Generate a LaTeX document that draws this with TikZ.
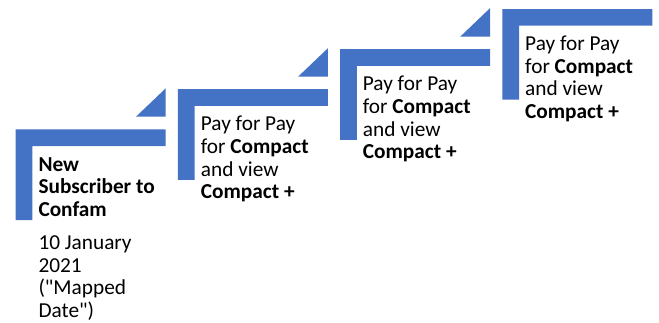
\documentclass[tikz,border=0pt]{standalone}
\usepackage{fontspec}
\setmainfont{Carlito}
\definecolor{stepblue}{HTML}{4472C4}
\tikzset{
  lshape/.style={fill=stepblue, draw=none},
  steptext/.style={anchor=base west, inner sep=0pt, align=left, font=\fontsize{21.3}{22.7}\selectfont, text=black}
}
\begin{document}
\begin{tikzpicture}[x=1pt,y=-1pt]
\useasboundingbox (0,0) rectangle (659,322);
\foreach \i in {0,1,2,3}{
  \pgfmathsetmacro{\xo}{15.7+162.2*\i}
  \pgfmathsetmacro{\yo}{129.3-40.1*\i}
  \fill[lshape] (\xo,\yo) -- ++(150,0) -- ++(0,16.7) -- ++(-133.3,0) -- ++(0,74) -- ++(-16.7,0) -- cycle;
}
\foreach \i in {0,1,2}{
  \pgfmathsetmacro{\xo}{15.7+162.2*\i+150}
  \pgfmathsetmacro{\yo}{129.3-40.1*\i-12.6}
  \fill[lshape] (\xo,\yo) -- ++(-29.7,0) -- ++(29.7,-28.4) -- cycle;
}
% base anchor = baseline of the last line
\node[steptext] (t1) at (38.3,216.4) {\textbf{New}\\\textbf{Subscriber to}\\\textbf{Confam}};
\node[steptext] (d1) at (38.3,317.4) {10 January\\2021\\(\textquotedbl Mapped\\Date\textquotedbl)};
\node[steptext] (t2) at (200.7,198.8) {Pay for Pay\\for \textbf{Compact}\\and view\\\textbf{Compact +}};
\node[steptext] (t3) at (362.7,158.8) {Pay for Pay\\for \textbf{Compact}\\and view\\\textbf{Compact +}};
\node[steptext] (t4) at (525,118.6) {Pay for Pay\\for \textbf{Compact}\\and view\\\textbf{Compact +}};
\end{tikzpicture}
\end{document}
